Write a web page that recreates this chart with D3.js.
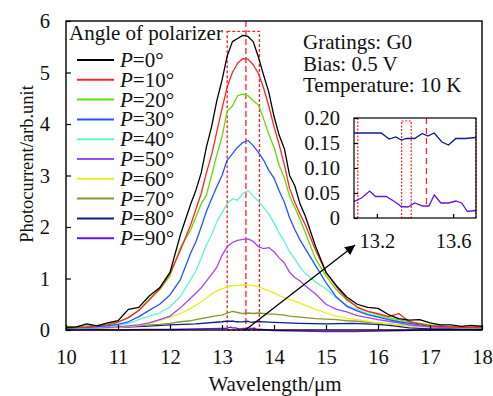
<!DOCTYPE html>
<html>
<head>
<meta charset="utf-8">
<script src="https://cdn.jsdelivr.net/npm/d3@7"></script>
<style>
  body { margin: 0; background: #fff; }
  svg { display: block; }
  svg text { font-family: "Liberation Serif", "Times New Roman", Times, serif; }
</style>
</head>
<body>
<svg id="chart" width="493" height="396"></svg>
<script>
// shared wavelength grid (um) for the eight big curves
const wavelength = [10.0,10.2,10.4,10.6,10.8,11.0,11.2,11.4,11.6,11.8,12.0,12.2,12.4,
  12.5,12.6,12.7,12.8,12.9,13.0,13.1,13.2,13.3,13.4,13.5,13.6,13.7,13.8,13.9,14.0,14.1,14.2,14.3,14.4,14.5,14.6,
  14.8,15.0,15.2,15.4,15.6,15.8,16.0,16.2,16.4,16.6,16.8,17.0,17.2,17.4,17.6,17.8,18.0];

const p0 = [0.05,0.06,0.12,0.08,0.14,0.18,0.40,0.44,0.66,0.82,1.12,1.85,2.45,
  2.72,3.05,3.55,3.95,4.45,4.85,5.32,5.60,5.66,5.72,5.70,5.60,5.30,4.95,4.62,4.15,3.78,3.52,3.0,2.8,2.45,2.22,
  1.62,1.12,0.86,0.64,0.50,0.44,0.42,0.30,0.22,0.19,0.20,0.14,0.10,0.10,0.07,0.09,0.07];
const p10 = [0.04,0.05,0.06,0.08,0.10,0.15,0.24,0.38,0.58,0.80,1.10,1.55,2.05,
  2.35,2.65,3.05,3.40,3.85,4.30,4.72,5.00,5.18,5.27,5.26,5.15,4.98,4.70,4.35,3.95,3.60,3.20,2.75,2.48,2.25,2.05,
  1.55,1.12,0.84,0.60,0.44,0.36,0.32,0.26,0.32,0.16,0.12,0.08,0.07,0.06,0.05,0.05,0.04];
const p20 = [0.07,0.06,0.08,0.09,0.12,0.16,0.24,0.38,0.60,0.78,1.05,1.60,1.95,
  2.20,2.45,2.62,3.00,3.40,3.75,4.25,4.35,4.55,4.58,4.55,4.45,4.37,4.10,3.80,3.55,3.20,2.95,2.60,2.38,2.15,1.90,
  1.38,1.05,0.78,0.58,0.45,0.36,0.30,0.24,0.20,0.16,0.13,0.10,0.08,0.06,0.05,0.05,0.05];
const p30 = [0.03,0.04,0.05,0.06,0.08,0.11,0.16,0.26,0.38,0.50,0.68,0.98,1.50,
  1.72,2.00,2.30,2.55,2.78,3.00,3.30,3.42,3.55,3.64,3.68,3.58,3.45,3.30,3.10,2.95,2.70,2.48,2.18,1.95,1.75,1.58,
  1.25,0.92,0.64,0.46,0.37,0.30,0.25,0.20,0.16,0.13,0.10,0.08,0.07,0.06,0.05,0.05,0.06];
const p40 = [0.03,0.03,0.04,0.05,0.07,0.09,0.13,0.20,0.27,0.33,0.45,0.65,0.98,
  1.15,1.40,1.65,1.85,2.10,2.28,2.45,2.55,2.52,2.65,2.71,2.60,2.50,2.38,2.25,2.08,1.88,1.72,1.52,1.38,1.22,1.10,
  0.93,0.80,0.62,0.48,0.40,0.32,0.27,0.22,0.17,0.14,0.10,0.08,0.07,0.06,0.05,0.06,0.09];
const p50 = [0.02,0.02,0.03,0.04,0.05,0.06,0.08,0.10,0.14,0.20,0.27,0.43,0.62,
  0.72,0.82,0.95,1.08,1.22,1.45,1.62,1.70,1.74,1.76,1.77,1.72,1.62,1.58,1.60,1.52,1.40,1.30,1.12,1.02,0.95,0.86,
  0.70,0.50,0.40,0.35,0.28,0.24,0.20,0.17,0.14,0.10,0.08,0.06,0.05,0.05,0.04,0.05,0.06];
const p60 = [0.02,0.02,0.03,0.03,0.04,0.05,0.07,0.09,0.13,0.18,0.25,0.32,0.42,
  0.48,0.55,0.62,0.70,0.76,0.80,0.84,0.86,0.86,0.88,0.87,0.86,0.84,0.80,0.76,0.72,0.67,0.63,0.59,0.56,0.52,0.48,
  0.40,0.33,0.27,0.23,0.20,0.17,0.14,0.12,0.10,0.08,0.07,0.06,0.05,0.05,0.04,0.05,0.05];
const p70 = [0.03,0.03,0.04,0.04,0.05,0.05,0.07,0.08,0.10,0.11,0.13,0.16,0.18,
  0.20,0.22,0.24,0.26,0.28,0.29,0.33,0.36,0.34,0.32,0.33,0.32,0.33,0.32,0.31,0.31,0.30,0.29,0.27,0.26,0.25,0.24,
  0.22,0.21,0.20,0.18,0.17,0.15,0.14,0.12,0.10,0.09,0.07,0.06,0.05,0.05,0.04,0.04,0.04];

// the two flat curves carry the finer points
const wl80 = [10.0,10.5,11.0,11.5,12.0,12.5,13.0,
  13.080,13.223,13.264,13.299,13.329,13.355,13.398,13.438,13.467,13.501,13.541,13.576,13.614,13.666,13.715,
  14.0,14.5,15.0,15.5,16.0,16.3,16.6,17.0,17.5,18.0];
const p80 = [0.02,0.04,0.05,0.07,0.10,0.12,0.16,
  0.170,0.170,0.158,0.162,0.156,0.159,0.159,0.169,0.164,0.170,0.152,0.146,0.159,0.159,0.161,
  0.15,0.13,0.12,0.13,0.11,0.08,0.04,0.02,0.02,0.01];
const wl90 = [10.0,10.5,11.0,11.5,12.0,12.5,13.0,
  13.080,13.119,13.162,13.193,13.249,13.292,13.329,13.363,13.398,13.441,13.473,13.501,13.536,13.576,13.614,13.645,13.675,13.715,
  14.0,14.5,15.0,15.5,16.0,16.5,17.0,17.5,18.0];
const p90 = [0.0,0.01,0.0,0.01,0.01,0.02,0.03,
  0.033,0.040,0.054,0.043,0.043,0.033,0.023,0.022,0.030,0.024,0.024,0.046,0.030,0.030,0.034,0.030,0.013,0.015,
  -0.01,-0.02,-0.03,-0.03,-0.02,-0.01,0.0,0.01,0.0];

const angles = [0, 10, 20, 30, 40, 50, 60, 70, 80, 90];
const lineColors = ["#000000", "#ff2424", "#5fdd00", "#2255ff", "#62f2d2",
  "#a445f2", "#e6ef1c", "#86962c", "#101c88", "#6a12e0"];
const xTicks = [10, 11, 12, 13, 14, 15, 16, 17, 18];
const yTicks = [0, 1, 2, 3, 4, 5, 6];
const insetXTicks = [13.2, 13.6];
const insetYTicks = [0, 0.05, 0.1, 0.15, 0.2];
const infoLines = ["Gratings: G0", "Bias: 0.5 V", "Temperature: 10 K"];
// red marker lines (um): zoom box, center line, narrow box in inset
const zoomBox = [13.1, 13.72];
const centerLine = 13.46;
const narrowBox = [13.33, 13.38];
// arrow from the zoomed spot to the inset, in data units
const arrowFrom = [13.45, 0];
const arrowTo = [15.56, 1.65];

const FONT = "Liberation Serif, Times New Roman, Times, serif";

let svg,
  width = 493,
  height = 396,
  margin = { left: 66, right: 11, top: 21, bottom: 66 },
  xScale = d3.scaleLinear(),
  yScale = d3.scaleLinear(),
  inset = { x0: 354, x1: 476, y0: 118, y1: 218 },
  insetX = d3.scaleLinear(),
  insetY = d3.scaleLinear();

const ys = [p0, p10, p20, p30, p40, p50, p60, p70, p80, p90];
const series = angles.map((a, i) => {
  const wl = i === 8 ? wl80 : i === 9 ? wl90 : wavelength;
  return { angle: a, color: lineColors[i], points: wl.map((w, j) => [w, ys[i][j]]) };
});

svg = d3.select("#chart").attr("font-family", FONT);

xScale.domain([10, 18]).range([margin.left, width - margin.right]);
yScale.domain([0, 6]).range([height - margin.bottom, margin.top]);
insetX.domain([13.08, 13.72]).range([inset.x0, inset.x1]);
insetY.domain([0, 0.2]).range([inset.y1, inset.y0]);

const defs = svg.append("defs");
defs.append("clipPath").attr("id", "inset-clip")
  .append("rect")
  .attr("x", inset.x0).attr("y", inset.y0 - 2)
  .attr("width", inset.x1 - inset.x0).attr("height", inset.y1 - inset.y0 + 2);
defs.append("marker")
  .attr("id", "arrowhead")
  .attr("viewBox", "0 0 10 10")
  .attr("refX", 10).attr("refY", 5)
  .attr("markerUnits", "userSpaceOnUse")
  .attr("markerWidth", 14).attr("markerHeight", 10)
  .attr("orient", "auto")
  .append("path").attr("d", "M0,0 L10,5 L0,10 z").attr("fill", "#000");

// red dashed marks in the main plot
const marks = svg.append("g").attr("stroke", "#ff2020").attr("fill", "none").attr("stroke-width", 1.3);
marks.append("rect")
  .attr("x", xScale(zoomBox[0]))
  .attr("y", yScale(5.8))
  .attr("width", xScale(zoomBox[1]) - xScale(zoomBox[0]))
  .attr("height", yScale(0) - yScale(5.8))
  .attr("stroke-dasharray", "3,2");
marks.append("line")
  .attr("x1", xScale(centerLine)).attr("x2", xScale(centerLine))
  .attr("y1", yScale(6)).attr("y2", yScale(0))
  .attr("stroke-dasharray", "6,3");

const line = d3.line()
  .x((d) => xScale(d[0]))
  .y((d) => yScale(d[1]));

svg.append("g").classed("curves", true)
  .selectAll("path")
  .data(series.slice().reverse())
  .join("path")
  .attr("fill", "none")
  .attr("stroke", (d) => d.color)
  .attr("stroke-width", 1.3)
  .attr("stroke-linejoin", "round")
  .attr("d", (d) => line(d.points));

// axes, ticks inward
const styleAxis = (g) => {
  g.attr("font-family", FONT).attr("font-size", 20.5);
  g.select(".domain").attr("display", "none");
  g.selectAll(".tick text").attr("fill", "#111");
  g.selectAll(".tick line").attr("stroke", "#000").attr("stroke-width", 1.2);
};

svg.append("g")
  .attr("transform", `translate(0,${height - margin.bottom})`)
  .call(d3.axisBottom(xScale).tickValues(xTicks).tickFormat(d3.format("d"))
    .tickSizeInner(-5).tickSizeOuter(0).tickPadding(19))
  .call(styleAxis);

svg.append("g")
  .attr("transform", `translate(${margin.left},0)`)
  .call(d3.axisLeft(yScale).tickValues(yTicks).tickFormat(d3.format("d"))
    .tickSizeInner(-5).tickSizeOuter(0).tickPadding(16))
  .call(styleAxis);

svg.append("rect")
  .attr("x", margin.left).attr("y", margin.top)
  .attr("width", width - margin.left - margin.right)
  .attr("height", height - margin.top - margin.bottom)
  .attr("fill", "none").attr("stroke", "#000").attr("stroke-width", 1.4);

// axis titles
svg.append("text")
  .attr("x", 275).attr("y", 391)
  .attr("text-anchor", "middle").attr("font-size", 21).attr("fill", "#111")
  .text("Wavelength/\u03bcm");
svg.append("text")
  .attr("transform", "translate(33,164) rotate(-90)")
  .attr("text-anchor", "middle").attr("font-size", 18.5).attr("fill", "#111")
  .text("Photocurrent/arb.unit");

// legend
const legend = svg.append("g").attr("font-size", 21).attr("fill", "#111");
legend.append("text").attr("x", 69).attr("y", 40).text("Angle of polarizer");
const rows = legend.selectAll(".row")
  .data(series)
  .join("g")
  .attr("class", "row")
  .attr("transform", (d, i) => `translate(0,${60 + i * 19.8})`);
rows.append("line")
  .attr("x1", 77).attr("x2", 114)
  .attr("stroke", (d) => d.color).attr("stroke-width", 2);
rows.append("text")
  .attr("x", 120).attr("y", 7)
  .html((d) => `<tspan font-style="italic">P</tspan>=${d.angle}\u00b0`);

// measurement conditions
svg.append("g").attr("font-size", 21).attr("fill", "#111")
  .selectAll("text")
  .data(infoLines)
  .join("text")
  .attr("x", 303)
  .attr("y", (d, i) => 49 + i * 21.5)
  .text((d) => d);

// arrow
svg.append("line")
  .attr("x1", xScale(arrowFrom[0])).attr("y1", yScale(arrowFrom[1]))
  .attr("x2", xScale(arrowTo[0])).attr("y2", yScale(arrowTo[1]))
  .attr("stroke", "#000").attr("stroke-width", 1.3)
  .attr("marker-end", "url(#arrowhead)");

// inset
const ins = svg.append("g").classed("inset", true);
ins.append("rect")
  .attr("x", inset.x0).attr("y", inset.y0)
  .attr("width", inset.x1 - inset.x0).attr("height", inset.y1 - inset.y0)
  .attr("fill", "#fff");

const insMarks = ins.append("g").attr("stroke", "#ff2020").attr("fill", "none").attr("stroke-width", 1.2);
zoomBox.forEach((w) => {
  insMarks.append("line")
    .attr("x1", insetX(w)).attr("x2", insetX(w))
    .attr("y1", inset.y0).attr("y2", inset.y1)
    .attr("stroke-dasharray", "2,1.5");
});
insMarks.append("rect")
  .attr("x", insetX(narrowBox[0])).attr("y", inset.y0 + 3)
  .attr("width", insetX(narrowBox[1]) - insetX(narrowBox[0]))
  .attr("height", inset.y1 - inset.y0 - 3)
  .attr("stroke-dasharray", "2,1.5");
insMarks.append("line")
  .attr("x1", insetX(centerLine)).attr("x2", insetX(centerLine))
  .attr("y1", inset.y0).attr("y2", inset.y1 - 10)
  .attr("stroke-dasharray", "6,4");

const insetLine = d3.line()
  .x((d) => insetX(d[0]))
  .y((d) => insetY(d[1]));
ins.append("g")
  .attr("clip-path", "url(#inset-clip)")
  .selectAll("path")
  .data(series.slice(8))
  .join("path")
  .attr("fill", "none")
  .attr("stroke", (d) => d.color)
  .attr("stroke-width", 1.3)
  .attr("d", (d) => insetLine(d.points.filter((p) => p[0] >= 13.0 && p[0] <= 14.0)));

ins.append("g")
  .attr("transform", `translate(0,${inset.y1})`)
  .call(d3.axisBottom(insetX).tickValues(insetXTicks).tickFormat(d3.format(".1f"))
    .tickSizeInner(-4).tickSizeOuter(0).tickPadding(15))
  .call(styleAxis);
ins.append("g")
  .attr("transform", `translate(${inset.x0},0)`)
  .call(d3.axisLeft(insetY).tickValues(insetYTicks).tickSizeInner(-4).tickSizeOuter(0).tickPadding(14)
    .tickFormat((d) => (d === 0 ? "0" : d3.format(".2f")(d))))
  .call(styleAxis);
ins.append("rect")
  .attr("x", inset.x0).attr("y", inset.y0)
  .attr("width", inset.x1 - inset.x0).attr("height", inset.y1 - inset.y0)
  .attr("fill", "none").attr("stroke", "#000").attr("stroke-width", 1.2);
</script>
</body>
</html>
